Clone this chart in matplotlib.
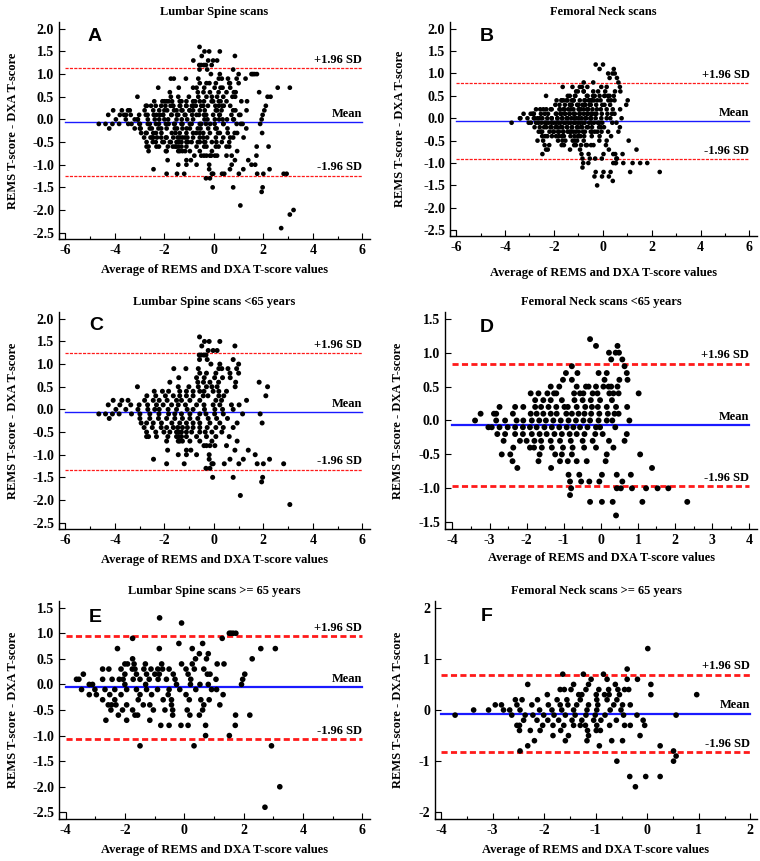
# -*- coding: utf-8 -*-

import numpy as np
import matplotlib
matplotlib.use("Agg")
import matplotlib.pyplot as plt
from matplotlib.patches import Rectangle
from matplotlib.ticker import MultipleLocator, FormatStrFormatter

plt.rcParams['axes.unicode_minus'] = False

# points, one row per difference level: (difference, [averages])
lumbar_lt65 = [
    (1.6, [-0.58]),
    (1.5, [-0.38, -0.19, 0.24]),
    (1.4, [-0.49, 0.85]),
    (1.3, [-0.23, -0.03, 0.13]),
    (1.2, [-0.59, -0.51, -0.40, -0.32]),
    (1.1, [-0.58, -0.27, 0.78]),
    (1.0, [-0.12, 0.24, 1.00]),
    (0.9, [-1.62, -1.13, -0.63, 0.20, 0.32, 0.57, 0.92]),
    (0.8, [-0.57, -0.30, 0.08, 0.65, 1.00]),
    (0.7, [-1.42, -0.70, -0.39, 0.03, 0.35, 0.66]),
    (0.6, [-1.78, -0.65, -0.42, -0.16, 0.19, 0.88, 1.83]),
    (0.5, [-3.09, -1.44, -1.01, -0.63, -0.30, -0.08, 0.13, 0.86, 2.17]),
    (0.4, [-2.41, -2.08, -1.83, -1.38, -1.11, -0.84, -0.57, -0.40, -0.03, 0.20, 0.51]),
    (0.3, [-2.71, -2.35, -1.96, -1.64, -1.38, -1.11, -0.84, -0.43, -0.24, 0.20, 0.40, 2.10]),
    (0.2, [-4.07, -3.72, -3.47, -2.80, -2.45, -2.21, -1.89, -1.51, -1.31, -0.97, -0.57, 0.08, 0.31, 1.32]),
    (0.1, [-4.27, -3.80, -3.36, -3.02, -2.68, -2.32, -2.05, -1.71, -1.44, -1.15, -0.70, -0.40, -0.03, 0.24, 0.71, 1.02]),
    (0.0, [-3.96, -3.56, -3.07, -2.67, -2.39, -2.21, -1.85, -1.51, -1.08, -0.84, -0.38, 0.04, 0.35, 0.78]),
    (-0.1, [-4.65, -4.38, -4.10, -3.83, -3.33, -2.99, -2.59, -2.22, -1.83, -1.58, -1.31, -0.97, -0.57, -0.32, 0.03, 0.38, 1.16, 1.87]),
    (-0.2, [-4.23, -2.99, -2.59, -2.24, -1.91, -1.58, -1.27, -0.97, -0.65, -0.23, 0.11, 0.55]),
    (-0.3, [-2.94, -2.72, -2.45, -2.12, -1.70, -1.38, -1.11, -0.84, -0.57, -0.16, 0.24, 0.94, 1.95]),
    (-0.4, [-2.82, -2.49, -2.13, -1.91, -1.64, -1.46, -1.27, -1.07, -0.84, -0.57, -0.27, 0.08, 0.38, 0.78]),
    (-0.5, [-2.72, -2.35, -2.02, -1.78, -1.51, -1.42, -1.31, -1.11, -0.90, -0.57, -0.35, -0.08, 0.32]),
    (-0.6, [-2.72, -2.64, -2.32, -1.86, -1.51, -1.42, -1.31, -1.11, -0.70, -0.30, 0.08, 0.62]),
    (-0.7, [-1.91, -1.44, -1.38, -1.27, -0.97, -0.57, -0.08, 0.94]),
    (-0.8, [-0.40, -0.30, -0.16, 0.04, 0.51]),
    (-0.9, [-1.87, -1.11, -0.93, 0.85, 1.39]),
    (-1.0, [-1.44, -1.11, -0.70, -0.19, 1.67]),
    (-1.1, [-2.44, -0.19, 0.65, 1.19, 2.25]),
    (-1.2, [-1.91, -1.20, -0.08, -0.03, 0.42, 1.01, 1.75, 2.00, 2.82]),
    (-1.3, [-0.32, -0.16]),
    (-1.5, [-0.05, 0.78, 1.97]),
    (-1.6, [1.93]),
    (-1.9, [1.07]),
    (-2.1, [3.07]),
]

lumbar_ge65 = [
    (1.3, [-0.83]),
    (1.2, [-0.09]),
    (1.0, [1.52, 1.58, 1.65, 1.74]),
    (0.9, [-1.74, 1.28]),
    (0.8, [-0.18, 0.62]),
    (0.7, [-2.25, -0.84, 0.27, 2.58, 3.07]),
    (0.6, [0.51, 0.81]),
    (0.5, [-1.74, 0.38, 0.75, 2.29]),
    (0.4, [-2.00, -1.91, -1.69, -1.31, -0.76, -0.09, 0.27, 1.11, 1.34]),
    (0.3, [-2.75, -2.54, -2.13, -1.75, -1.66, -1.36, -1.12, -0.89, -0.73, -0.51, 0.06, 0.34, 0.66]),
    (0.2, [-3.40, -2.00, -1.61, -1.27, -0.99, -0.84, -0.37, 0.13, 0.78, 0.87, 2.04]),
    (0.1, [-3.63, -3.55, -2.75, -2.43, -2.19, -2.06, -1.72, -1.49, -1.18, -0.88, -0.60, -0.31, 0.22, 1.07, 1.97]),
    (0.0, [-3.20, -3.09, -2.00, -1.30, -0.26, 0.21, 0.53, 0.81, 1.93]),
    (-0.1, [-3.46, -3.01, -2.67, -2.34, -1.94, -1.61, -1.27, -0.90, -0.51, -0.15, 0.39, 0.92, 1.09]),
    (-0.2, [-3.20, -2.96, -2.51, -2.13, -1.49, -1.10, -0.54, 0.06, 1.31]),
    (-0.3, [-2.75, -2.34, -1.55, -0.71, -0.43, 0.17, 0.56, 0.84]),
    (-0.4, [-2.56, -2.45, -2.30, -1.94, -1.38, -1.16, -0.43, 0.66, 1.20]),
    (-0.5, [-2.47, -2.08, -1.74, -1.04, -0.65, -0.39, 0.10, 0.62]),
    (-0.6, [-2.22, -1.66, -1.57, -0.39, 0.19, 0.51, 1.73, 2.21]),
    (-0.7, [-2.64, -1.94, -1.16]),
    (-0.8, [-0.79, -0.51, -0.11, 0.13, 0.72, 1.72]),
    (-1.0, [0.72, 1.52]),
    (-1.2, [-1.49, 0.33, 2.94]),
    (-2.0, [3.22]),
    (-2.4, [2.72]),
]

femoral_lt65 = [
    (1.2, [-0.29]),
    (1.1, [-0.13, 0.45]),
    (1.0, [0.22, 0.40, 0.49]),
    (0.9, [0.28, 0.58]),
    (0.8, [-0.78, 0.64]),
    (0.7, [-0.94, -0.63, -0.06, 0.16, 0.70]),
    (0.6, [-1.02, -0.78, 0.10, 0.50, 0.72]),
    (0.5, [-1.35, -1.12, -0.65, -0.40, -0.33, -0.13, 0.07, 0.21, 0.28, 0.45]),
    (0.4, [-1.89, -1.68, -1.44, -1.26, -1.20, -0.72, -0.56, -0.47, -0.22, -0.09, 0.23, 0.34, 0.48, 1.02]),
    (0.3, [-1.77, -1.55, -1.35, -1.05, -0.71, -0.49, -0.27, -0.02, 0.30]),
    (0.2, [-2.73, -2.31, -2.09, -1.77, -1.61, -1.41, -1.20, -0.98, -0.89, -0.65, -0.42, -0.24, -0.08, 0.16, 0.41, 0.71]),
    (0.1, [-3.24, -2.88, -2.82, -2.37, -1.89, -1.73, -1.55, -1.35, -1.19, -0.93, -0.78, -0.60, -0.44, -0.26, -0.04, 0.19, 0.37, 0.48]),
    (0.0, [-3.39, -2.82, -2.58, -2.27, -2.09, -1.86, -1.66, -1.48, -1.28, -1.08, -0.87, -0.67, -0.47, -0.29, -0.06, 0.16, 0.31, 0.77]),
    (-0.1, [-3.03, -2.94, -2.73, -2.51, -2.31, -2.10, -1.91, -1.73, -1.52, -1.32, -1.12, -0.92, -0.74, -0.56, -0.36, -0.13, -0.02, 0.39]),
    (-0.2, [-2.79, -2.58, -2.31, -2.10, -1.86, -1.65, -1.46, -1.25, -1.05, -0.84, -0.65, -0.44, -0.15, 0.05, 0.70]),
    (-0.3, [-2.62, -2.18, -2.00, -1.79, -1.61, -1.35, -1.10, -0.81, -0.49, -0.22, 0.22, 0.64]),
    (-0.4, [-2.36, -1.91, -1.80, -1.59, -1.32, -1.02, -0.76, -0.45, -0.13, 0.34]),
    (-0.5, [-2.67, -2.44, -1.65, -1.23, -1.05, -0.78, 0.16, 1.06]),
    (-0.6, [-2.38, -1.68, -1.10, -0.89, -0.65, -0.38, 0.13]),
    (-0.7, [-2.25, -1.34, 1.38]),
    (-0.8, [-0.87, -0.58, 0.03, 0.43, 0.81]),
    (-0.9, [-0.83, -0.53, -0.31, -0.04, 0.58]),
    (-1.0, [-0.80, 0.43, 0.54, 0.84, 1.22, 1.53, 1.82]),
    (-1.1, [-0.83]),
    (-1.2, [-0.29, 0.03, 0.32, 1.12, 2.33]),
    (-1.4, [0.41]),
]

femoral_ge65 = [
    (1.2, [0.01]),
    (0.8, [-0.39]),
    (0.7, [-1.64, -1.24, -0.85]),
    (0.6, [-1.09, -0.78, -0.39, -0.19]),
    (0.5, [-2.32, -1.43, -1.14, -0.62, 0.07]),
    (0.4, [-1.69, -1.61, -1.48, -1.19, -0.94, -0.75, -0.57, -0.44, -0.36]),
    (0.3, [-1.94, -1.33, -1.27, -0.99, -0.83, -0.74, -0.54, 0.07, 0.96]),
    (0.2, [-2.56, -2.43, -2.13, -1.75, -1.56, -1.30, -0.98, -0.78, -0.59]),
    (0.1, [-2.95, -2.83, -2.53, -2.24, -1.92, -1.69, -1.54, -1.37, -1.14, -0.96, -0.65, -0.48, -0.33]),
    (0.0, [-3.37, -3.08, -2.79, -2.67, -2.47, -2.09, -1.85, -1.66, -1.43, -1.17, -0.98, -0.72, -0.51]),
    (-0.1, [-3.73, -2.63, -2.37, -2.22, -2.01, -1.81, -1.59, -1.40, -1.19, -1.01, -0.82, -0.46, -0.20, 0.56]),
    (-0.2, [-2.40, -2.14, -1.93, -1.72, -1.46, -1.27, -1.04, -0.90, -0.60, -0.08]),
    (-0.3, [-2.53, -2.48, -2.03, -1.83, -1.62, -1.43, -1.30, -1.20, -0.98, -0.73, -0.44, -0.33, -0.05]),
    (-0.4, [-2.48, -2.27, -2.08, -1.68, -1.16, -0.99, -0.91]),
    (-0.5, [-1.83, -1.53, -1.14, -0.14]),
    (-0.6, [-2.19, -1.59, -1.17, -0.69, -0.48]),
    (-0.7, [-2.32, -0.93, 0.25]),
    (-0.8, [-2.47, 0.51]),
    (-0.9, [0.56]),
    (-1.0, [-0.59, 0.51]),
    (-1.3, [-0.34, -0.03, 0.25]),
    (-1.5, [-0.23]),
]

# limits of agreement: +1.96 SD, mean, -1.96 SD
limits_A = [1.13, -0.06, -1.25]
limits_B = [0.78, -0.07, -0.92]
limits_C = [1.24, -0.06, -1.33]
limits_D = [0.84, -0.07, -0.97]
limits_E = [0.94, -0.06, -1.07]
limits_F = [0.69, -0.07, -0.83]

titles = ["Lumbar Spine scans", "Femoral Neck scans",
          "Lumbar Spine scans <65 years", "Femoral Neck scans <65 years",
          "Lumbar Spine scans >= 65 years", "Femoral Neck scans >= 65 years"]
letters = ["A", "B", "C", "D", "E", "F"]


def unpack(rows):
    xs, ys = [], []
    for yv, xl in rows:
        xs += xl
        ys += [yv] * len(xl)
    return np.array(xs), np.array(ys)


xC, yC = unpack(lumbar_lt65)
xE, yE = unpack(lumbar_ge65)
xD, yD = unpack(femoral_lt65)
xF, yF = unpack(femoral_ge65)
# whole groups are the two age groups together
xA, yA = np.concatenate([xC, xE]), np.concatenate([yC, yE])
xB, yB = np.concatenate([xD, xF]), np.concatenate([yD, yF])

W, H = 760, 861
fig = plt.figure(figsize=(W / 100, H / 100), dpi=100)
fig.patch.set_facecolor("white")

serif = "Liberation Serif"

# layout per panel: box in pixels (left, top, right, bottom), limits, ticks
panels = [
    dict(data=(xA, yA), lim=limits_A, box=(59, 22, 370, 239), xl=(-6.26, 6.31), yl=(-2.64, 2.15),
         xt=(-6, 6, 2, 1), yt=(-2.5, 2.0, 0.5), fmt="%.1f", heavy=False, ms=11.5,
         letter=(0.093, 0.972), ylab=-0.148, xlab=-0.143),
    dict(data=(xB, yB), lim=limits_B, box=(450, 22, 757, 236), xl=(-6.25, 6.31), yl=(-2.63, 2.15),
         xt=(-6, 6, 2, 1), yt=(-2.5, 2.0, 0.5), fmt="%.1f", heavy=False, ms=11,
         letter=(0.098, 0.97), ylab=-0.163, xlab=-0.173),
    dict(data=(xC, yC), lim=limits_C, box=(59, 312, 370, 529), xl=(-6.26, 6.31), yl=(-2.64, 2.15),
         xt=(-6, 6, 2, 1), yt=(-2.5, 2.0, 0.5), fmt="%.1f", heavy=False, ms=13,
         letter=(0.097, 0.975), ylab=-0.148, xlab=-0.143),
    dict(data=(xD, yD), lim=limits_D, box=(445, 312, 757, 529), xl=(-4.2, 4.21), yl=(-1.6, 1.6),
         xt=(-4, 4, 1, 0.5), yt=(-1.5, 1.5, 0.5), fmt="%.1f", heavy=True, ms=18,
         letter=(0.112, 0.966), ylab=-0.151, xlab=-0.134),
    dict(data=(xE, yE), lim=limits_E, box=(59, 601, 370, 819), xl=(-4.22, 6.26), yl=(-2.63, 1.63),
         xt=(-4, 6, 2, 1), yt=(-2.5, 1.5, 0.5), fmt="%.1f", heavy=True, ms=16.5,
         letter=(0.097, 0.962), ylab=-0.148, xlab=-0.142),
    dict(data=(xF, yF), lim=limits_F, box=(435, 601, 757, 819), xl=(-4.12, 2.13), yl=(-2.13, 2.13),
         xt=(-4, 2, 1, 0.5), yt=(-2, 2, 1), fmt="%d", heavy=True, ms=16.5,
         letter=(0.143, 0.966), ylab=-0.115, xlab=-0.142),
]

for i, p in enumerate(panels):
    l, t, r, b = p["box"]
    ax = fig.add_axes([l / W, 1 - b / H, (r - l) / W, (b - t) / H])
    ax.set_xlim(*p["xl"])
    ax.set_ylim(*p["yl"])
    for s in ["top", "right"]:
        ax.spines[s].set_visible(False)
    for s in ["left", "bottom"]:
        ax.spines[s].set_linewidth(1.0)

    x0, x1, xs, xm = p["xt"]
    y0, y1, ys = p["yt"]
    ax.set_xticks(np.arange(x0, x1 + 0.01, xs))
    ax.xaxis.set_minor_locator(MultipleLocator(xm))
    ax.set_yticks(np.arange(y0, y1 + 0.01, ys))
    ax.yaxis.set_major_formatter(FormatStrFormatter(p["fmt"]))
    ax.tick_params(axis="both", which="major", direction="in", length=4.3, width=0.8,
                   labelsize=10, pad=3.5)
    ax.tick_params(axis="x", which="minor", direction="in", length=2.3, width=0.8)
    for lab in ax.get_xticklabels() + ax.get_yticklabels():
        lab.set_fontfamily(serif)
        lab.set_fontweight("bold")

    # small box in the corner, as in the original software
    ax.add_patch(Rectangle((p["xl"][0], p["yl"][0]), x0 - p["xl"][0], y0 - p["yl"][0],
                           fill=False, lw=0.8, ec="black", clip_on=False))

    xd, yd = p["data"]
    ax.scatter(xd, yd, s=p["ms"], c="black", edgecolors="none", zorder=3)

    up, mean, lo = p["lim"]
    if p["heavy"]:
        lw_sd, lw_m, dash = 2.0, 1.6, (2.2, 1.2)
    else:
        lw_sd, lw_m, dash = 0.9, 1.0, (2.5, 1.0)
    for yv in (up, lo):
        ax.plot([x0, x1], [yv, yv], color="#ff1a1a", lw=lw_sd, dashes=dash, zorder=2)
    ax.plot([x0, x1], [mean, mean], color="#1a1aff", lw=lw_m, zorder=2)

    span = p["yl"][1] - p["yl"][0]
    off = span * 0.012
    for yv, txt in ((up, "+1.96 SD"), (mean, "Mean"), (lo, "-1.96 SD")):
        ax.text(x1, yv + off, txt, ha="right", va="bottom", fontsize=9,
                fontfamily=serif, fontweight="bold")

    ax.text(p["letter"][0], p["letter"][1], letters[i], transform=ax.transAxes,
            ha="left", va="top", fontsize=14, fontweight="bold",
            fontfamily="Liberation Sans")

    ax.set_title(titles[i], fontsize=9, fontfamily=serif, fontweight="bold", pad=5)
    ax.set_xlabel("Average of REMS and DXA T-score values", fontsize=9,
                  fontfamily=serif, fontweight="bold")
    ax.set_ylabel("REMS T-score - DXA T-score", fontsize=9,
                  fontfamily=serif, fontweight="bold")
    ax.xaxis.set_label_coords(0.5, p["xlab"])
    ax.xaxis.label.set_va("center")
    ax.yaxis.set_label_coords(p["ylab"], 0.5)
    ax.yaxis.label.set_va("center")

fig.savefig("out.png", dpi=100, facecolor="white")
